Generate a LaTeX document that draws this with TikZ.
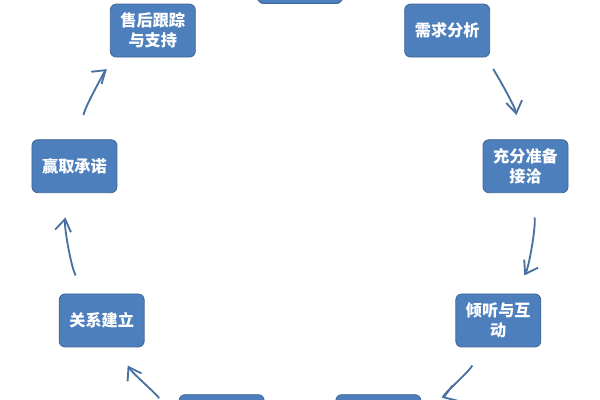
\documentclass[tikz,border=0pt]{standalone}
\usepackage{fontspec}
\newfontfamily\cjk{Noto Sans CJK SC}
\usepackage{xcolor}
\usepackage{tikz}
\usetikzlibrary{arrows.meta}
\definecolor{boxblue}{RGB}{76,127,188}
\definecolor{boxedge}{RGB}{62,102,152}
\definecolor{arrowblue}{RGB}{72,112,160}

\begin{document}
\begin{tikzpicture}
    \tikzstyle{stage} = [rectangle, draw=boxedge, fill=boxblue, rounded corners=0.15cm, minimum width=2.125cm, minimum height=1.325cm, align=center, text=white, font=\cjk\bfseries\fontsize{11.5}{14.5}\selectfont, line width=0.6pt]
    \tikzstyle{line} = [draw=arrowblue, line width=1.3pt, -{Straight Barb[length=3mm, width=4mm]}, shorten <=1.3cm, shorten >=1.3cm]

    \path [use as bounding box, fill=white] (-7.5,-4.85) rectangle (7.5,5.15);
    \clip (-7.5,-4.85) rectangle (7.5,5.15);

    \node [stage] (top) at (90:5.725) {};
    \node [stage] (xq) at (50:5.725) {需求分析};
    \node [stage] (zb) at (10:5.725) {充分准备\\接洽};
    \node [stage] (qt) at (-30:5.725) {倾听与互\\动};
    \node [stage] (br) at (-70:5.725) {};
    \node [stage] (bl) at (-110:5.725) {};
    \node [stage] (gx) at (-150:5.725) {关系建立};
    \node [stage] (yq) at (170:5.725) {赢取承诺};
    \node [stage] (sh) at (130:5.725) {售后跟踪\\与支持};

    \path [line, shorten <=1.5cm] (xq.center) to[bend left=20] (zb.center);
    \path [line] (zb.center) to[bend left=20] (qt.center);
    \path [line, shorten >=1.7cm] (qt.center) to[bend left=20] (br.center);
    \path [line, shorten <=1.7cm] (bl.center) to[bend left=20] (gx.center);
    \path [line] (gx.center) to[bend left=20] (yq.center);
    \path [line, shorten >=1.5cm] (yq.center) to[bend left=20] (sh.center);
\end{tikzpicture}
\end{document}
